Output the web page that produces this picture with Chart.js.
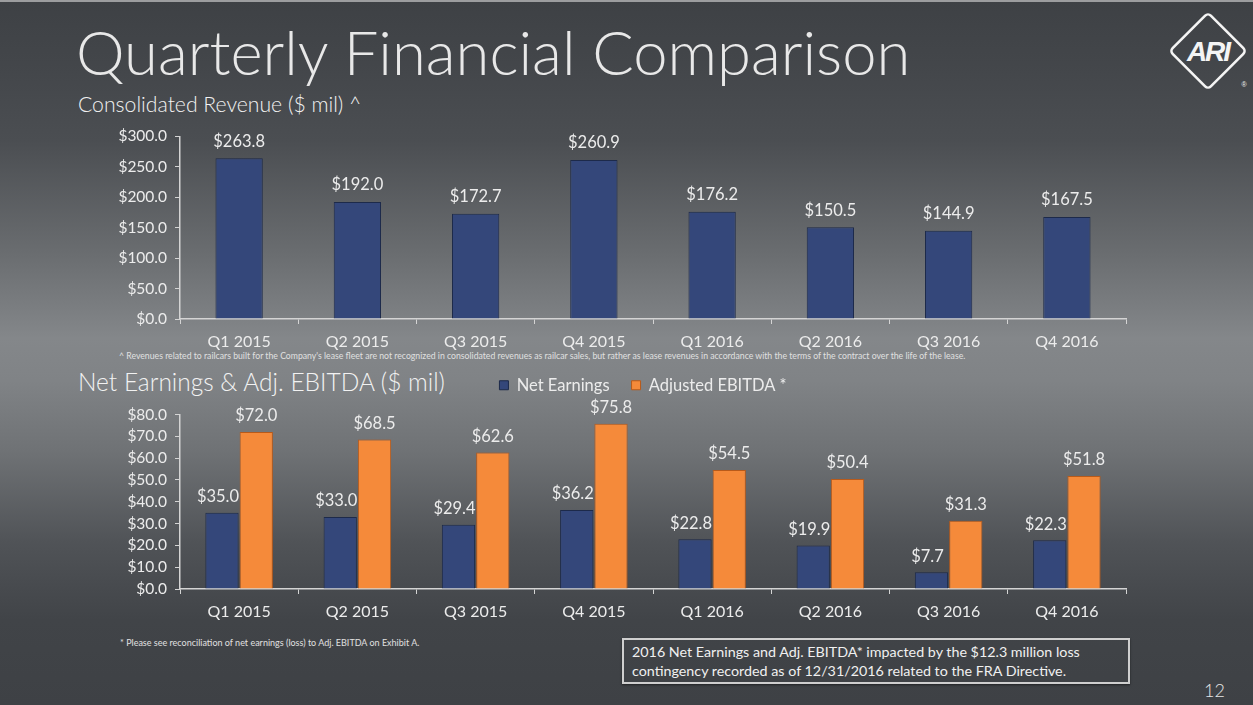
<!DOCTYPE html>
<html>
<script src="https://cdn.jsdelivr.net/npm/chart.js@4/dist/chart.umd.min.js"></script>
<style>
  html, body {
    margin: 0;
    padding: 0;
  }
  body {
    width: 1253px;
    height: 705px;
    position: relative;
    overflow: hidden;
    font-family: Lato, "Open Sans", sans-serif;
    color: #ececec;
    background: linear-gradient(to bottom, #3e4145 0%, #43464a 9%, #4b4e52 20%, #6a6d70 36%, #84878a 48%, #808386 54%, #6f7275 64%, #505357 77%, #414448 88%, #3e4145 100%);
    border-top: 2px solid #9c9d9f;
    box-sizing: border-box;
  }
  .abs { position: absolute; white-space: nowrap; }
  #title { left: 76px; top: 12px; font-size: 61.5px; font-weight: 300; color: #e8e8e8; }
  .sub { font-weight: 300; color: #f2f2f2; }
  .note { color: #e0e0e0; }
  #box {
    left: 622px; top: 636px; width: 496px; height: 40px;
    border: 2px solid #cfcfcf;
    padding: 2px 0 0 8px;
    font-size: 14.3px; line-height: 19px; color: #f0f0f0;
    box-shadow: 0 1px 2px rgba(0,0,0,0.5);
  }
  #page { left: 1204px; top: 677px; font-size: 18px; font-weight: 300; color: #e6e6e6; }
  canvas { position: absolute; }
</style>
<body>
  <div class="abs" id="title">Quarterly Financial Comparison</div>
  <div class="abs sub" style="left:78px; top:89px; font-size:21.2px;">Consolidated Revenue ($ mil) ^</div>
  <div class="abs sub" style="left:78px; top:365px; font-size:24.5px;">Net Earnings &amp; Adj. EBITDA ($ mil)</div>
  <div class="abs note" style="left:119px; top:348px; font-size:8.7px;">^ Revenues related to railcars built for the Company's lease fleet are not recognized in consolidated revenues as railcar sales, but rather as lease revenues in accordance with the terms of the contract over the life of the lease.</div>
  <div class="abs note" style="left:120px; top:635px; font-size:9px;">* Please see reconciliation of net earnings (loss) to Adj. EBITDA on Exhibit A.</div>
  <div class="abs" id="box">2016 Net Earnings and Adj. EBITDA* impacted by the $12.3 million loss<br>contingency recorded as of 12/31/2016 related to the FRA Directive.</div>
  <div class="abs" id="page">12</div>

  <svg class="abs" style="left:1164px; top:7px;" width="89" height="86" viewBox="0 0 89 86">
    <rect x="17" y="15" width="54" height="54" rx="4" ry="4" transform="rotate(45 44 42)"
          fill="none" stroke="#f4f4f4" stroke-width="2.6"/>
    <text x="44" y="52" text-anchor="middle" font-family="Liberation Sans" font-weight="bold"
          font-style="italic" font-size="28" fill="#f4f4f4" letter-spacing="-2">ARI</text>
    <text x="80" y="78" text-anchor="middle" font-family="Liberation Sans" font-size="7" fill="#f4f4f4">®</text>
  </svg>

  <canvas id="revChart" width="1040" height="240" style="left:100px; top:117px;"></canvas>
  <canvas id="earnChart" width="1040" height="274" style="left:100px; top:353px;"></canvas>

<script>

const quarters = ["Q1 2015", "Q2 2015", "Q3 2015", "Q4 2015", "Q1 2016", "Q2 2016", "Q3 2016", "Q4 2016"];
const revenue = [263.8, 192.0, 172.7, 260.9, 176.2, 150.5, 144.9, 167.5];
const netEarnings = [35.0, 33.0, 29.4, 36.2, 22.8, 19.9, 7.7, 22.3];
const adjEbitda = [72.0, 68.5, 62.6, 75.8, 54.5, 50.4, 31.3, 51.8];

const BLUE = "#34477a";
const ORANGE = "#f58a3a";
const AXIS = "#d4d4d4";
const TXT = "#ececec";
const FONT = "Lato, 'Open Sans', sans-serif";

function money(v) {
  return '$' + Number(v).toFixed(1);
}

// draws the value above each bar
const valueLabels = {
  id: 'valueLabels',
  afterDatasetsDraw(chart, args, opts) {
    const ctx = chart.ctx;
    ctx.save();
    ctx.font = '16.5px ' + FONT;
    ctx.fillStyle = TXT;
    ctx.textAlign = 'center';
    ctx.textBaseline = 'middle';
    chart.data.datasets.forEach((ds, i) => {
      const meta = chart.getDatasetMeta(i);
      const shift = (opts.shift && opts.shift[i]) || 0;
      meta.data.forEach((bar, j) => {
        ctx.fillText(money(ds.data[j]), bar.x + shift, bar.y - opts.gap);
      });
    });
    ctx.restore();
  }
};

function yAxis(max, step) {
  return {
    min: 0,
    max: max,
    border: { color: AXIS, width: 1.5 },
    grid: { drawOnChartArea: false, color: AXIS, tickLength: 5 },
    ticks: {
      stepSize: step,
      color: TXT,
      font: { family: FONT, size: 15.5 },
      padding: 8,
      callback: (v) => money(v),
    },
    afterFit: (scale) => { scale.width = 80; },
  };
}

const xAxis = {
  border: { color: AXIS, width: 1.5 },
  grid: { drawOnChartArea: false, color: AXIS, tickLength: 5 },
  ticks: { color: TXT, font: { family: FONT, size: 16 }, padding: 8 },
  afterFit: (scale) => { scale.height = 40; },
};

new Chart("revChart", {
  type: 'bar',
  data: {
    labels: quarters,
    datasets: [
      {
        label: 'Consolidated Revenue',
        data: revenue,
        backgroundColor: BLUE,
        borderColor: "#1d2a4a",
        borderWidth: 1,
        categoryPercentage: 1,
        barPercentage: 0.4,
      },
    ],
  },
  options: {
    responsive: false,
    animation: false,
    layout: { padding: { top: 11, right: 14, left: 0, bottom: 0 } },
    plugins: {
      legend: { display: false },
      tooltip: { enabled: false },
      valueLabels: { gap: 17 },
    },
    scales: {
      x: xAxis,
      y: yAxis(300, 50),
    },
  },
  plugins: [valueLabels],
});

// more room under the legend, and nudge it right like on the slide
const legendPlace = {
  id: 'legendPlace',
  beforeInit(chart) {
    const fit = chart.legend.fit;
    chart.legend.fit = function () {
      fit.bind(chart.legend)();
      this.height += 11;
    };
  },
  afterLayout(chart) {
    chart.legend.left += 30;
    chart.legend.right += 30;
  }
};

new Chart("earnChart", {
  type: 'bar',
  data: {
    labels: quarters,
    datasets: [
      {
        label: 'Net Earnings',
        data: netEarnings,
        backgroundColor: BLUE,
        borderColor: "#1d2a4a",
        borderWidth: 1,
        categoryPercentage: 0.58,
        barPercentage: 0.97,
      },
      {
        label: 'Adjusted EBITDA *',
        data: adjEbitda,
        backgroundColor: ORANGE,
        borderColor: "#b85a1a",
        borderWidth: 1,
        categoryPercentage: 0.58,
        barPercentage: 0.97,
      },
    ],
  },
  options: {
    responsive: false,
    animation: false,
    layout: { padding: { top: 0, right: 14, left: 0, bottom: 0 } },
    plugins: {
      legend: {
        display: true,
        position: 'top',
        labels: {
          color: TXT,
          font: { family: FONT, size: 16.5 },
          boxWidth: 9,
          boxHeight: 9,
          padding: 22,
        },
      },
      tooltip: { enabled: false },
      valueLabels: { gap: 16, shift: [-4, 0] },
    },
    scales: {
      x: xAxis,
      y: yAxis(80, 10),
    },
  },
  plugins: [valueLabels, legendPlace],
});
</script>

</body>
</html>
